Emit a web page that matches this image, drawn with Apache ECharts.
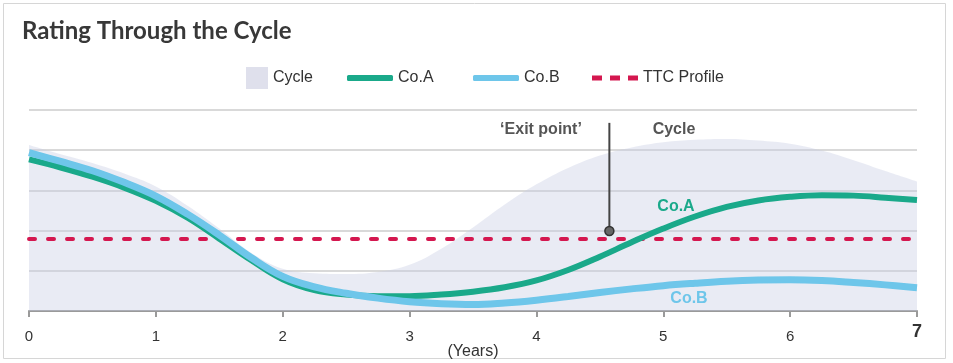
<!DOCTYPE html>
<html>
<head>
<meta charset="utf-8">
<script src="https://cdn.jsdelivr.net/npm/echarts@6/dist/echarts.min.js"></script>
<style>
html,body{margin:0;padding:0;background:#fff;overflow:hidden;}
#chart{width:953px;height:363px;}
</style>
</head>
<body>
<div id="chart"></div>
<script>
// ---- data ----
const years = [0, 0.25, 0.5, 0.75, 1, 1.25, 1.5, 1.75, 2, 2.25, 2.5, 2.75, 3, 3.25, 3.5, 3.75, 4, 4.25, 4.5, 4.75, 5, 5.25, 5.5, 5.75, 6, 6.25, 6.5, 6.75, 7];
const cycleValues = [4.13, 3.9, 3.68, 3.42, 3.1, 2.62, 2.05, 1.45, 1.05, 0.94, 0.92, 0.97, 1.15, 1.55, 2.08, 2.65, 3.15, 3.56, 3.87, 4.07, 4.2, 4.26, 4.28, 4.24, 4.16, 3.99, 3.75, 3.48, 3.22];
const coAValues = [3.77, 3.57, 3.34, 3.07, 2.74, 2.32, 1.8, 1.27, 0.79, 0.52, 0.41, 0.37, 0.37, 0.41, 0.48, 0.59, 0.76, 1.02, 1.35, 1.71, 2.05, 2.35, 2.59, 2.75, 2.84, 2.88, 2.87, 2.82, 2.76];
const coBValues = [3.94, 3.72, 3.49, 3.2, 2.86, 2.41, 1.89, 1.33, 0.86, 0.6, 0.44, 0.32, 0.23, 0.18, 0.16, 0.2, 0.27, 0.36, 0.46, 0.55, 0.63, 0.69, 0.74, 0.77, 0.78, 0.76, 0.71, 0.65, 0.58];
const ttcLevel = 1.79;
const exitX = 4.575;
const exitY = [1.99, 4.68];
const xTicks = ['0', '1', '2', '3', '4', '5', '6', '7'];

const pairs = (xs, ys) => xs.map((x, i) => [x, ys[i]]);
const ttcData = [[years[0], ttcLevel], [years[years.length - 1], ttcLevel]];

const chart = echarts.init(document.getElementById('chart'));
const FONT = 'Liberation Sans, Arial, sans-serif';
const legendText = {fontFamily: FONT, fontSize: 16, color: '#333', lineHeight: 22};
const legendBase = {top: 67, padding: 0, selectedMode: false, textStyle: legendText};

chart.setOption({
  animation: false,
  title: {
    text: 'Rating Through the Cycle',
    left: 22, top: 19, padding: 0,
    textStyle: {fontFamily: 'Lato', fontWeight: 'bold', fontSize: 24, color: '#383838'}
  },
  legend: [
    Object.assign({data: ['Cycle'], left: 246, icon: 'rect', itemWidth: 22, itemHeight: 22}, legendBase),
    Object.assign({data: ['Co.A'], left: 347, icon: 'roundRect', itemWidth: 46, itemHeight: 6}, legendBase),
    Object.assign({data: ['Co.B'], left: 473, icon: 'roundRect', itemWidth: 46, itemHeight: 6}, legendBase),
    Object.assign({data: ['TTC Profile'], left: 592, icon: 'path://M0 0h10v5h-10z M18 0h10v5h-10z M36 0h10v5h-10z', itemWidth: 46, itemHeight: 5}, legendBase)
  ],
  grid: {left: 29, right: 36, top: 110, bottom: 52, containLabel: false, outerBoundsMode: 'none'},
  xAxis: {
    type: 'value', min: 0, max: 7, interval: 1,
    name: '(Years)', nameLocation: 'middle', nameGap: 33, nameMoveOverlap: false,
    nameTextStyle: {fontFamily: FONT, fontSize: 16, color: '#333'},
    axisLine: {show: true, lineStyle: {color: '#9a9a9a', width: 2}},
    axisTick: {show: true, length: 6, lineStyle: {color: '#9a9a9a', width: 2}},
    splitLine: {show: false},
    axisLabel: {
      margin: 18,
      fontFamily: FONT, fontSize: 15, color: '#333',
      formatter: function (v) {
        const t = xTicks[Math.round(v)];
        return v === 7 ? '{b|' + t + '}' : t;
      },
      rich: {b: {fontFamily: FONT, fontSize: 18, fontWeight: 'bold', color: '#333', lineHeight: 6}}
    }
  },
  yAxis: {
    type: 'value', min: 0, max: 5, interval: 1,
    axisLine: {show: false}, axisTick: {show: false}, axisLabel: {show: false},
    splitLine: {show: true, lineStyle: {color: '#d9d9d9', width: 2}}
  },
  series: [
    {
      name: 'Cycle', type: 'line', smooth: 0.4, symbol: 'none', silent: true,
      data: pairs(years, cycleValues),
      lineStyle: {width: 0, color: '#dfe0ec'},
      itemStyle: {color: '#dfe0ec'},
      areaStyle: {color: 'rgba(200,203,226,0.56)', origin: 'start'},
      z: 3
    },
    {
      name: 'TTC Profile', type: 'line', symbol: 'none', silent: true,
      data: ttcData,
      lineStyle: {color: '#d4174f', width: 4, type: [6, 13], cap: 'round'},
      itemStyle: {color: '#d4174f'},
      z: 4
    },
    {
      name: 'Co.A', type: 'line', smooth: 0.4, symbol: 'none', silent: true,
      data: pairs(years, coAValues),
      lineStyle: {color: '#1aa98a', width: 6},
      itemStyle: {color: '#1aa98a'},
      z: 5
    },
    {
      name: 'Co.B', type: 'line', smooth: 0.4, symbol: 'none', silent: true,
      data: pairs(years, coBValues),
      lineStyle: {color: '#6ec6ea', width: 7},
      itemStyle: {color: '#6ec6ea'},
      z: 6
    },
    {
      name: 'exit', type: 'line', silent: true,
      data: [
        {value: [exitX, exitY[0]], symbol: 'circle', symbolSize: 9},
        {value: [exitX, exitY[1]], symbol: 'none'}
      ],
      showAllSymbol: true,
      lineStyle: {color: '#444', width: 2},
      itemStyle: {color: '#666', borderColor: '#333', borderWidth: 1.5},
      z: 8
    }
  ],
  graphic: [
    {type: 'rect', shape: {x: 3.5, y: 3.5, width: 942, height: 355}, style: {fill: 'none', stroke: '#d6d6d6', lineWidth: 1}, silent: true},
    {type: 'text', x: 541, y: 130, style: {text: '\u2018Exit point\u2019', fontFamily: FONT, fontSize: 16, fontWeight: 'bold', fill: '#555', textAlign: 'center', textVerticalAlign: 'middle'}},
    {type: 'text', x: 674, y: 130, style: {text: 'Cycle', fontFamily: FONT, fontSize: 16, fontWeight: 'bold', fill: '#555', textAlign: 'center', textVerticalAlign: 'middle'}},
    {type: 'text', x: 676, y: 207, z: 20, style: {text: 'Co.A', fontFamily: FONT, fontSize: 16, fontWeight: 'bold', fill: '#1aa98a', textAlign: 'center', textVerticalAlign: 'middle'}},
    {type: 'text', x: 689, y: 299, z: 20, style: {text: 'Co.B', fontFamily: FONT, fontSize: 16, fontWeight: 'bold', fill: '#6ec6ea', textAlign: 'center', textVerticalAlign: 'middle'}}
  ]
});
</script>
</body>
</html>
